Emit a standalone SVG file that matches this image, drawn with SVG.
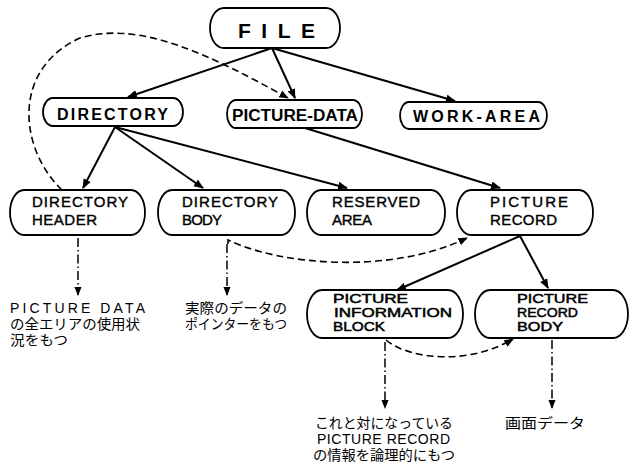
<svg xmlns="http://www.w3.org/2000/svg" width="631" height="462" viewBox="0 0 631 462">
<style>
.box{fill:#fff;stroke:#000;stroke-width:1.8}
.t1{font-family:"Liberation Sans",Arial,sans-serif;font-weight:bold;fill:#000}
.t3{font-family:"Liberation Sans",Arial,sans-serif;font-size:15px;fill:#000;stroke:#000;stroke-width:0.4}
.t4{font-family:"Liberation Sans",Arial,sans-serif;font-size:12.5px;fill:#000;stroke:#000;stroke-width:0.5}
.jp{font-family:"Liberation Sans","Noto Sans CJK JP",sans-serif;font-size:14px;fill:#000}
.solid{fill:none;stroke:#000;stroke-width:2}
.dash{fill:none;stroke:#000;stroke-width:1.6;stroke-dasharray:7 4}
.dashdot{fill:none;stroke:#000;stroke-width:1.5;stroke-dasharray:9 3 1.5 3}
</style>
<defs>
<marker id="ah" viewBox="0 0 10 10" refX="9" refY="5" markerWidth="5" markerHeight="5" orient="auto" markerUnits="strokeWidth">
<path d="M0,1 L10,5 L0,9 Z" fill="#000"/>
</marker>
<marker id="ahd" viewBox="0 0 10 10" refX="9" refY="5" markerWidth="6" markerHeight="6" orient="auto" markerUnits="strokeWidth">
<path d="M0,1 L10,5 L0,9 Z" fill="#000"/>
</marker>
</defs>

<g id="connectors">
<path class="solid" d="M272,48 L128,97" marker-end="url(#ah)"/>
<path class="solid" d="M272,48 L295,98" marker-end="url(#ah)"/>
<path class="solid" d="M272,48 L455,101" marker-end="url(#ah)"/>
<path class="solid" d="M115,127 L83,188" marker-end="url(#ah)"/>
<path class="solid" d="M115,127 L203,188" marker-end="url(#ah)"/>
<path class="solid" d="M115,127 L347,188" marker-end="url(#ah)"/>
<path class="solid" d="M305,128 L500,188" marker-end="url(#ah)"/>
<path class="solid" d="M520,236 L397,290" marker-end="url(#ah)"/>
<path class="solid" d="M520,236 L548,288" marker-end="url(#ah)"/>
<path class="dash" d="M62,190 C20,150 10,70 80,38 C140,20 210,55 288,98" marker-end="url(#ahd)"/>
<path class="dash" d="M228,244 L228,240 C280,265 390,275 467,238" marker-end="url(#ahd)"/>
<path class="dash" d="M386,340 C410,360 470,365 513,339" marker-end="url(#ahd)"/>
<path class="dashdot" d="M78,238 L78,295" marker-end="url(#ahd)"/>
<path class="dashdot" d="M227,244 L227,295" marker-end="url(#ahd)"/>
<path class="dashdot" d="M385,342 L385,408" marker-end="url(#ahd)"/>
<path class="dashdot" d="M552,340 L552,408" marker-end="url(#ahd)"/>
</g>

<g id="file">
<path class="box" d="M224,8 H326 A14,20 0 0 1 326,48 H224 A14,20 0 0 1 224,8 Z"/>
<text class="t1" x="238" y="38" font-size="21" textLength="77" lengthAdjust="spacing">FILE</text>
</g>
<g id="directory">
<path class="box" d="M53,98 H173 A10,14 0 0 1 173,126 H53 A10,14 0 0 1 53,98 Z"/>
<text class="t1" x="57" y="120" font-size="16" textLength="111" lengthAdjust="spacing">DIRECTORY</text>
</g>
<g id="picture-data">
<path class="box" d="M236,100 H353 A9,14 0 0 1 353,128 H236 A9,14 0 0 1 236,100 Z"/>
<text class="t1" x="232" y="121" font-size="16" textLength="126" lengthAdjust="spacingAndGlyphs">PICTURE-DATA</text>
</g>
<g id="work-area">
<path class="box" d="M409,102 H538 A9,13.5 0 0 1 538,129 H409 A9,13.5 0 0 1 409,102 Z"/>
<text class="t1" x="413" y="122" font-size="16" textLength="127" lengthAdjust="spacing">WORK-AREA</text>
</g>

<g id="directory-header">
<path class="box" d="M24,190 H131 A14,22.5 0 0 1 131,235 H24 A14,22.5 0 0 1 24,190 Z"/>
<text class="t3" x="32" y="207" textLength="96" lengthAdjust="spacing">DIRECTORY</text>
<text class="t3" x="32" y="225" textLength="65" lengthAdjust="spacing">HEADER</text>
</g>
<g id="directory-body">
<path class="box" d="M172,190 H281 A14,22.5 0 0 1 281,235 H172 A14,22.5 0 0 1 172,190 Z"/>
<text class="t3" x="182" y="207" textLength="96" lengthAdjust="spacing">DIRECTORY</text>
<text class="t3" x="182" y="225" textLength="40" lengthAdjust="spacing">BODY</text>
</g>
<g id="reserved-area">
<path class="box" d="M321,190 H431 A14,22.5 0 0 1 431,235 H321 A14,22.5 0 0 1 321,190 Z"/>
<text class="t3" x="332" y="207" textLength="88" lengthAdjust="spacing">RESERVED</text>
<text class="t3" x="332" y="225" textLength="40" lengthAdjust="spacing">AREA</text>
</g>
<g id="picture-record">
<path class="box" d="M471,190 H579 A14,22.5 0 0 1 579,235 H471 A14,22.5 0 0 1 471,190 Z"/>
<text class="t3" x="490" y="207" textLength="78" lengthAdjust="spacing">PICTURE</text>
<text class="t3" x="490" y="225" textLength="67" lengthAdjust="spacing">RECORD</text>
</g>

<g id="picture-information-block">
<path class="box" d="M322,290 H448 A15,24 0 0 1 448,338 H322 A15,24 0 0 1 322,290 Z"/>
<text class="t4" x="333" y="303" textLength="75" lengthAdjust="spacingAndGlyphs">PICTURE</text>
<text class="t4" x="334" y="317" textLength="118" lengthAdjust="spacingAndGlyphs">INFORMATION</text>
<text class="t4" x="333" y="331" textLength="52" lengthAdjust="spacingAndGlyphs">BLOCK</text>
</g>
<g id="picture-record-body">
<path class="box" d="M490,290 H613 A15,24 0 0 1 613,338 H490 A15,24 0 0 1 490,290 Z"/>
<text class="t4" x="517" y="303" textLength="71" lengthAdjust="spacingAndGlyphs">PICTURE</text>
<text class="t4" x="517" y="317" textLength="61" lengthAdjust="spacingAndGlyphs">RECORD</text>
<text class="t4" x="517" y="331" textLength="46" lengthAdjust="spacingAndGlyphs">BODY</text>
</g>

<g id="notes">
<text class="jp" x="10" y="313" textLength="135" lengthAdjust="spacing">PICTURE DATA</text>
<text class="jp" x="10" y="329" textLength="130" lengthAdjust="spacingAndGlyphs">の全エリアの使用状</text>
<text class="jp" x="10" y="345" textLength="58" lengthAdjust="spacingAndGlyphs">況をもつ</text>
<text class="jp" x="185" y="313" textLength="102" lengthAdjust="spacingAndGlyphs">実際のデータの</text>
<text class="jp" x="185" y="329" textLength="102" lengthAdjust="spacingAndGlyphs">ポインターをもつ</text>
<text class="jp" x="315" y="428" textLength="138" lengthAdjust="spacingAndGlyphs">これと対になっている</text>
<text class="jp" x="317" y="444" textLength="133" lengthAdjust="spacing">PICTURE RECORD</text>
<text class="jp" x="313" y="460" textLength="142" lengthAdjust="spacingAndGlyphs">の情報を論理的にもつ</text>
<text class="jp" x="505" y="428" textLength="80" lengthAdjust="spacingAndGlyphs">画面データ</text>
</g>
</svg>
